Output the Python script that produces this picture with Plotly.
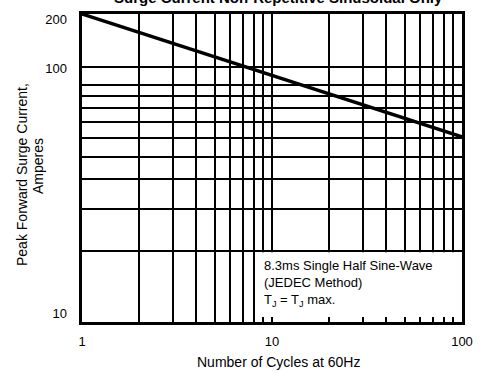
import math
import plotly.graph_objects as go

# ---- data ----
cycles = [1, 2, 5, 10, 20, 50, 100]
current = [200, 167, 132, 110, 92, 72, 60.5]

x_grid = [1, 2, 3, 4, 5, 6, 7, 8, 9, 10, 20, 30, 40, 50, 60, 70, 80, 90, 100]
x_tick_labels = ["1", " ", " ", " ", " ", " ", " ", " ", " ", "10", " ", " ", " ", " ", " ", " ", " ", " ", "100"]

y_grid = [20, 30, 40, 50, 60, 70, 80, 90, 100, 119]
y_label_vals = [189, 118, 10.9]
y_label_text = ["200", "100", "10"]

title_text = "Surge Current Non-Repetitive Sinusoidal Only"
x_title = "Number of Cycles at 60Hz"
y_title_lines = ["Peak Forward Surge Current,", "Amperes"]
note_text = "8.3ms Single Half Sine-Wave<br>(JEDEC Method)<br>T<sub>J</sub> = T<sub>J</sub> max."

FONT = "Liberation Sans, Arial, sans-serif"
YMIN, YMAX = 10, 200
yr = [math.log10(YMIN), math.log10(YMAX)]

L, R, T, B = 82, 22, 14, 51
W, H = 484, 373
PW, PH = W - L - R, H - T - B


def px_x(p):
    return (p - L) / PW


def px_y(p):
    return (H - B - p) / PH


fig = go.Figure()
fig.add_trace(go.Scatter(x=cycles, y=current, mode="lines",
                         line=dict(color="black", width=3.5),
                         showlegend=False, hoverinfo="skip"))
# invisible trace to anchor the label axis
fig.add_trace(go.Scatter(x=cycles, y=current, mode="lines", yaxis="y2",
                         line=dict(width=0), opacity=0,
                         showlegend=False, hoverinfo="skip"))

# white box covering the grid under the note
bx0 = math.log10(8) / 2 + 1.5 / PW
bx1 = 1 - 2 / PW
by0 = 5 / PH
by1 = (math.log10(20) - yr[0]) / (yr[1] - yr[0]) - 1.5 / PH
fig.add_shape(type="rect", xref="paper", yref="paper",
              x0=bx0, x1=bx1, y0=by0, y1=by1,
              fillcolor="white", line=dict(width=0), layer="above")

fig.update_layout(
    width=W, height=H,
    margin=dict(l=L, r=R, t=T, b=B, autoexpand=False),
    paper_bgcolor="white", plot_bgcolor="white",
    font=dict(family=FONT, color="black", size=13),
    xaxis=dict(type="log", range=[0, 2], tickmode="array",
               tickvals=x_grid, ticktext=x_tick_labels, automargin=False,
               tickangle=0, ticklabelstandoff=6,
               showgrid=True, gridcolor="black", gridwidth=1.5,
               showline=True, linecolor="black", linewidth=2.5, mirror=True,
               ticks="", tickfont=dict(size=13, color="black"),
               zeroline=False),
    yaxis=dict(type="log", range=yr, tickmode="array", tickvals=y_grid,
               showticklabels=False, ticks="", automargin=False,
               showgrid=True, gridcolor="black", gridwidth=1.5,
               showline=True, linecolor="black", linewidth=2.5, mirror=True,
               zeroline=False),
    yaxis2=dict(type="log", range=yr, overlaying="y", side="left",
                tickmode="array", tickvals=y_label_vals, ticktext=y_label_text,
                showgrid=False, showline=False, ticks="", zeroline=False,
                ticklabelstandoff=14,
                automargin=False, tickfont=dict(size=13, color="black")),
    annotations=[
        dict(text="<b>" + title_text + "</b>", xref="paper", yref="paper",
             x=px_x(278), y=px_y(8), xanchor="center", yanchor="bottom",
             showarrow=False, font=dict(size=15, family=FONT, color="black")),
        dict(text=x_title, xref="paper", yref="paper",
             x=px_x(278), y=px_y(362), xanchor="center", yanchor="middle",
             showarrow=False, font=dict(size=14, family=FONT, color="black")),
        dict(text=y_title_lines[0], xref="paper", yref="paper", textangle=-90,
             x=px_x(22), y=px_y(175), xanchor="center", yanchor="middle",
             showarrow=False, font=dict(size=14, family=FONT, color="black")),
        dict(text=y_title_lines[1], xref="paper", yref="paper", textangle=-90,
             x=px_x(38), y=px_y(166), xanchor="center", yanchor="middle",
             showarrow=False, font=dict(size=14, family=FONT, color="black")),
        dict(text=note_text, xref="paper", yref="paper", align="left",
             x=px_x(262), y=px_y(256), xanchor="left", yanchor="top",
             showarrow=False, font=dict(size=13, family=FONT, color="black")),
    ],
)

fig.write_html("out.html", config={"displayModeBar": False},
               post_script="document.body.style.margin='0';document.body.style.padding='0';")
